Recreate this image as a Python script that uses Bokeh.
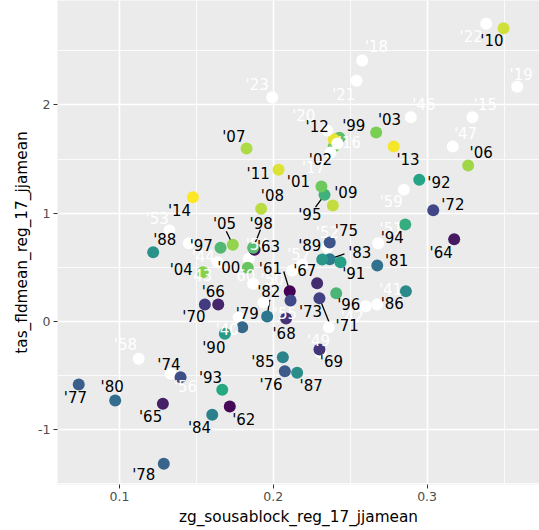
import numpy as np
from bokeh.plotting import figure
from bokeh.layouts import row
from bokeh.models import ColumnDataSource, LinearColorMapper, FixedTicker, Range1d, Spacer
from bokeh.embed import file_html
from bokeh.resources import INLINE
from bokeh.core.properties import value

# ---- data ----
years = [1940, 1941, 1942, 1943, 1944, 1945, 1946, 1947, 1949, 1950,
         1951, 1952, 1953, 1954, 1955, 1956, 1957, 1958, 1959, 1960,
         1961, 1962, 1963, 1964, 1965, 1966, 1967, 1968, 1969, 1970,
         1971, 1972, 1973, 1974, 1975, 1976, 1977, 1978, 1979, 1980,
         1981, 1982, 1983, 1984, 1985, 1986, 1987, 1988, 1989, 1990,
         1991, 1992, 1993, 1994, 1995, 1996, 1997, 1998, 1999, 2000,
         2001, 2002, 2003, 2004, 2005, 2006, 2007, 2008, 2009, 2010,
         2011, 2012, 2013, 2014, 2015, 2016, 2017, 2018, 2019, 2020,
         2021, 2022, 2023]
zg = [0.1774, 0.2676, 0.2600, 0.1639, 0.1451, 0.2361, 0.2894, 0.3167, 0.2307, 0.2123,
      0.2682, 0.2352, 0.1325, 0.1841, 0.1936, 0.1332, 0.2188, 0.1125, 0.2849, 0.1869,
      0.2107, 0.1717, 0.1878, 0.3176, 0.1282, 0.1642, 0.2285, 0.2083, 0.2300, 0.1555,
      0.2300, 0.3040, 0.2112, 0.1397, 0.2367, 0.2075, 0.0735, 0.1288, 0.1798, 0.0972,
      0.2676, 0.1960, 0.2367, 0.1603, 0.2062, 0.2862, 0.2155, 0.1219, 0.2318, 0.1685,
      0.2437, 0.2949, 0.1668, 0.2858, 0.2333, 0.2409, 0.1657, 0.1869, 0.2430, 0.1834,
      0.2313, 0.2393, 0.2669, 0.1542, 0.1737, 0.3267, 0.1826, 0.1921, 0.2387, 0.3497,
      0.2034, 0.2393, 0.2783, 0.1477, 0.3295, 0.2417, 0.2372, 0.2578, 0.3586, 0.2350,
      0.2541, 0.3384, 0.1993]
tas = [0.037, 0.157, 0.141, 0.548, 0.723, -0.053, 1.886, 1.616, -0.286, 0.471,
       0.723, 0.683, 0.840, 0.579, 0.175, -0.483, 0.526, -0.344, 1.216, 0.348,
       0.280, -0.785, 0.662, 0.760, -0.760, 0.157, 0.354, 0.028, -0.259, 0.157,
       0.215, 1.028, 0.194, -0.514, 0.729, -0.459, -0.582, -1.314, -0.053, -0.729,
       0.517, 0.046, 0.575, -0.861, -0.330, 0.280, -0.474, 0.640, 0.572, -0.114,
       0.548, 1.308, -0.631, 0.896, 1.170, 0.261, 0.681, 0.681, 1.696, 0.496,
       1.247, 1.616, 1.745, 0.455, 0.708, 1.440, 1.597, 1.041, 1.071, 2.708,
       1.401, 1.683, 1.616, 1.148, 1.886, 1.644, 1.560, 2.410, 2.167, 1.764,
       2.222, 2.749, 2.071]
x_ticks = [0.1, 0.2, 0.3]
y_ticks = [-1, 0, 1, 2]
x_tick_labels = ["0.1", "0.2", "0.3"]
y_tick_labels = ["-1", "0", "1", "2"]
color_low, color_high = 1961, 2014

# ---- label layout (screen-pixel offsets of each label from its point) ----
label_offsets = {
    1940: (-11.3, 13), 1941: (13.3, -14.7), 1942: (-13.3, 11), 1943: (-17, 13.5),
    1944: (14.4, 14), 1945: None, 1946: (13, -12.4), 1947: (12.7, -12),
    1949: (-2, -11), 1950: (-20, 10), 1951: (13, -14.4), 1952: (0, -14.3),
    1953: (-12.3, -11.7), 1954: (8.4, -13.3), 1955: (22, 11), 1956: (15, 13.4),
    1957: (-3.4, -10), 1958: (-13.3, -13.3), 1959: (-12.6, 12.4), 1960: (-9.4, -8.3),
    1961: (-19.3, -22.4), 1962: (14, 13), 1963: (14, -3.3), 1964: (-13, 14),
    1965: (-12.3, 13.4), 1966: (-5, -12.3), 1967: (-12.4, -11.7), 1968: (-2, 16),
    1969: (12, 12.7), 1970: (-11, 12.7), 1971: (27.7, 28), 1972: (19.6, -5.4),
    1973: (20, 11.7), 1974: (-11.7, -12.4), 1975: (16.7, -12), 1976: (-13.8, 13.3),
    1977: (-3.3, 13.7), 1978: (-20, 10.7), 1979: (5, -13.4), 1980: (-3, -13.3),
    1981: (19.3, -5), 1982: (1.6, -24.3), 1983: (30, -6), 1984: (-12.7, 13),
    1985: (-20, 4.6), 1986: (-13.6, 13.3), 1987: (14, 13.4), 1988: (11.6, -11.7),
    1989: (-12.4, -13.3), 1990: (-11, 14), 1991: (13.3, 12.3), 1992: (19.6, 3.4),
    1993: (-11.7, -12), 1994: (-13, 13.3), 1995: (-14.7, 20), 1996: (12.6, 11.3),
    1997: (-19.3, -1.3), 1998: (8, -24), 1999: (14.3, -11.6), 2000: (-19, 0),
    2001: (-23, -4.3), 2002: (-13.3, 14), 2003: (13.3, -13), 2004: (-21.6, -2.7),
    2005: (-8.3, -21), 2006: (13, -12.3), 2007: (-12.7, -11.3), 2008: (11.3, -12.3),
    2009: (13, -12.7), 2010: (-11.6, 13), 2011: (-20.3, 4), 2012: (-16.6, -12),
    2013: (14.3, 14), 2014: (-13.3, 14), 2015: (13, -12.4), 2016: (12, 0),
    2017: (-17, 15), 2018: (14.3, -13.3), 2019: (4, -12.3), 2020: (-23.4, -14),
    2021: (-12.7, 14), 2022: (-15, 13.4), 2023: (-15, -12.7),
}
segment_ends = {
    1961: (-6, -19.7), 1971: (11, 27.3), 1982: (2.6, -16.7), 1983: (14.7, -5.4),
    1995: (-9, 12.4), 1998: (7.3, -18), 2005: (-6.6, -13.6),
}

# ---- ggplot-like viridis: 6 stops interpolated in CIE Lab ----
VIRIDIS6 = ["#440154", "#414487", "#2A788E", "#22A884", "#7AD151", "#FDE725"]
_WHITE = np.array([0.95047, 1.0, 1.08883])
_M = np.array([[0.4124564, 0.3575761, 0.1804375],
               [0.2126729, 0.7151522, 0.0721750],
               [0.0193339, 0.1191920, 0.9503041]])

def _hex_to_lab(h):
    rgb = np.array([int(h[i:i + 2], 16) / 255 for i in (1, 3, 5)])
    lin = np.where(rgb <= 0.04045, rgb / 12.92, ((rgb + 0.055) / 1.055) ** 2.4)
    xyz = _M @ lin / _WHITE
    f = np.where(xyz > (6 / 29) ** 3, np.cbrt(xyz), xyz / (3 * (6 / 29) ** 2) + 4 / 29)
    return np.array([116 * f[1] - 16, 500 * (f[0] - f[1]), 200 * (f[1] - f[2])])

def _lab_to_hex(lab):
    fy = (lab[0] + 16) / 116
    f = np.array([fy + lab[1] / 500, fy, fy - lab[2] / 200])
    xyz = np.where(f > 6 / 29, f ** 3, 3 * (6 / 29) ** 2 * (f - 4 / 29)) * _WHITE
    lin = np.linalg.solve(_M, xyz)
    lin = np.clip(lin, 0, 1)
    rgb = np.where(lin <= 0.0031308, 12.92 * lin, 1.055 * lin ** (1 / 2.4) - 0.055)
    rgb = np.clip(np.round(rgb * 255), 0, 255).astype(int)
    return "#%02x%02x%02x" % tuple(rgb)

_labs = np.array([_hex_to_lab(c) for c in VIRIDIS6])
_stops = np.linspace(0, 1, len(VIRIDIS6))
palette = []
for t in np.linspace(0, 1, 256):
    lab = np.array([np.interp(t, _stops, _labs[:, k]) for k in range(3)])
    palette.append(_lab_to_hex(lab))

FONT = "DejaVu Sans"
FRAME_W, FRAME_H = 482, 484
x0, x1 = 0.05969, 0.37308
y0, y1 = -1.505, 2.964
LEFT_PAD = 7

p = figure(frame_width=FRAME_W, frame_height=FRAME_H,
           x_range=Range1d(x0, x1), y_range=Range1d(y0, y1),
           output_backend="svg", toolbar_location=None,
           min_border_left=57 - LEFT_PAD, min_border_right=0, min_border_top=0,
           min_border_bottom=46)
p.background_fill_color = "#EBEBEB"
p.border_fill_color = "white"
p.outline_line_color = None

p.xaxis.ticker = FixedTicker(ticks=x_ticks, minor_ticks=[0.05, 0.15, 0.25, 0.35])
p.yaxis.ticker = FixedTicker(ticks=y_ticks, minor_ticks=[-1.5, -0.5, 0.5, 1.5, 2.5])
p.xaxis.major_label_overrides = dict(zip(x_ticks, x_tick_labels))
p.yaxis.major_label_overrides = dict(zip(y_ticks, y_tick_labels))
p.xgrid.grid_line_color = "white"
p.ygrid.grid_line_color = "white"
p.xgrid.grid_line_width = 1.6
p.ygrid.grid_line_width = 1.6
p.xgrid.minor_grid_line_color = "white"
p.ygrid.minor_grid_line_color = "white"
p.xgrid.minor_grid_line_width = 0.8
p.ygrid.minor_grid_line_width = 0.8

for ax in (p.xaxis[0], p.yaxis[0]):
    ax.axis_line_color = None
    ax.major_tick_line_color = "#333333"
    ax.major_tick_line_width = 1
    ax.major_tick_out = 4
    ax.major_tick_in = 0
    ax.minor_tick_line_color = None
    ax.major_label_text_color = "#4D4D4D"
    ax.major_label_text_font = FONT
    ax.major_label_text_font_size = "12.5px"
    ax.major_label_standoff = 3
    ax.axis_label_text_font = FONT
    ax.axis_label_text_font_size = "15.3px"
    ax.axis_label_text_font_style = "normal"
    ax.axis_label_text_color = "black"
p.xaxis.axis_label = "zg_sousablock_reg_17_jjamean"
p.yaxis.axis_label = "tas_fldmean_reg_17_jjamean"
p.xaxis.axis_label_standoff = 4
p.yaxis.axis_label_standoff = 4

px_x = (x1 - x0) / FRAME_W
px_y = (y1 - y0) / FRAME_H

mapper = LinearColorMapper(palette=palette, low=color_low, high=color_high,
                           low_color="white", high_color="white")

# segments (ggrepel-style leader lines)
sx0, sy0, sx1, sy1 = [], [], [], []
for yr, (dx, dy) in segment_ends.items():
    i = years.index(yr)
    sx0.append(zg[i]); sy0.append(tas[i])
    sx1.append(zg[i] + dx * px_x); sy1.append(tas[i] - dy * px_y)
p.segment(sx0, sy0, sx1, sy1, line_color="black", line_width=1.3)

src = ColumnDataSource(dict(x=zg, y=tas, year=years))
p.scatter("x", "y", source=src, size=12, line_color=None,
          fill_color={"field": "year", "transform": mapper})

lx, ly, lt, lc, ox, oy = [], [], [], [], [], []
for i, yr in enumerate(years):
    off = label_offsets.get(yr)
    if off is None:
        continue
    lx.append(zg[i]); ly.append(tas[i])
    lt.append("'" + str(yr)[2:])
    lc.append("black" if color_low <= yr <= color_high else "white")
    ox.append(off[0]); oy.append(off[1])
lsrc = ColumnDataSource(dict(x=lx, y=ly, t=lt, c=lc, ox=ox, oy=oy))
p.text("x", "y", text="t", source=lsrc, x_offset="ox", y_offset="oy",
       text_color="c", text_font=value(FONT), text_font_size="15px",
       text_align="center", text_baseline="middle")

layout = row(Spacer(width=LEFT_PAD, height=10), p)
open("out.html", "w").write(file_html(layout, INLINE))
